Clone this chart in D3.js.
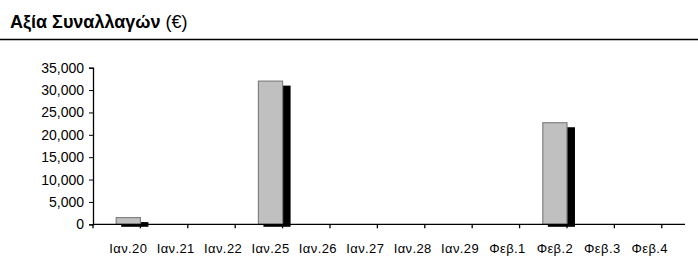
<html>
<head>
<script src="https://d3js.org/d3.v7.min.js"></script>
<style>
  body { margin: 0; background: #fff; }
  svg { font-family: "Liberation Sans", Arial, sans-serif; }
</style>
</head>
<body>
<svg width="698" height="257"></svg>
<script>
// data
var days = ["Ιαν.20", "Ιαν.21", "Ιαν.22", "Ιαν.25", "Ιαν.26", "Ιαν.27", "Ιαν.28", "Ιαν.29", "Φεβ.1", "Φεβ.2", "Φεβ.3", "Φεβ.4"]
var values = [1500, 0, 0, 32000, 0, 0, 0, 0, 0, 22700, 0, 0]
var yTicks = [0, 5000, 10000, 15000, 20000, 25000, 30000, 35000]

var svg = d3.select("svg")

// title + rule
var t = svg.append("text").attr("x", 10).attr("y", 28).style("font-size", "18px")
t.append("tspan").style("font-weight", "bold").text("Αξία Συναλλαγών ")
t.append("tspan").text("(€)")
svg.append("line").attr("x1", 0).attr("x2", 698).attr("y1", 39.5).attr("y2", 39.5)
  .attr("stroke", "#000").attr("stroke-width", 1.5)

var x = d3.scaleBand().domain(days).range([93, 685]).padding(0.49)
var y = d3.scaleLinear().domain([0, 35000]).range([224.3, 67.7])

var data = days.map(function(d, i) { return {day: d, v: values[i]} }).filter(function(d) { return d.v > 0 })

// shadow
svg.append("g").selectAll("rect").data(data).enter().append("rect")
  .attr("x", function(d) { return x(d.day) + 5 })
  .attr("y", function(d) { return y(d.v) + 4.5 })
  .attr("width", x.bandwidth() + 3)
  .attr("height", function(d) { return y(0) - y(d.v) - 2 })
  .attr("fill", "#000")

// bars
svg.append("g").selectAll("rect").data(data).enter().append("rect")
  .attr("x", function(d) { return x(d.day) })
  .attr("y", function(d) { return y(d.v) })
  .attr("width", x.bandwidth())
  .attr("height", function(d) { return y(0) - y(d.v) })
  .attr("fill", "#c0c0c0").attr("stroke", "#808080").attr("stroke-width", 1.2)

// y axis
var ya = svg.append("g").attr("transform", "translate(93,0)")
  .call(d3.axisLeft(y).tickValues(yTicks).tickSize(4).tickPadding(5).tickFormat(d3.format(",")))
ya.select(".domain").attr("stroke-width", 1.3)
ya.selectAll("text").style("font-size", "14px").style("font-family", "Liberation Sans, Arial, sans-serif").attr("fill", "#000")

// x axis: ticks at category boundaries
var xa = svg.append("g").attr("transform", "translate(0," + y(0) + ")")
xa.append("line").attr("x1", 93).attr("x2", 685).attr("stroke", "#000").attr("stroke-width", 1.3)
xa.selectAll("line.tk").data(days.concat(["end"])).enter().append("line").attr("class", "tk")
  .attr("x1", function(d, i) { return 93 + i * x.step() })
  .attr("x2", function(d, i) { return 93 + i * x.step() })
  .attr("y1", 0).attr("y2", 4).attr("stroke", "#000").attr("stroke-width", 1.3)
xa.selectAll("text").data(days).enter().append("text")
  .attr("x", function(d) { return x(d) + x.bandwidth() / 2 })
  .attr("y", 29).attr("text-anchor", "middle")
  .style("font-size", "13px").style("letter-spacing", "0.4px").text(function(d) { return d })
</script>
</body>
</html>
